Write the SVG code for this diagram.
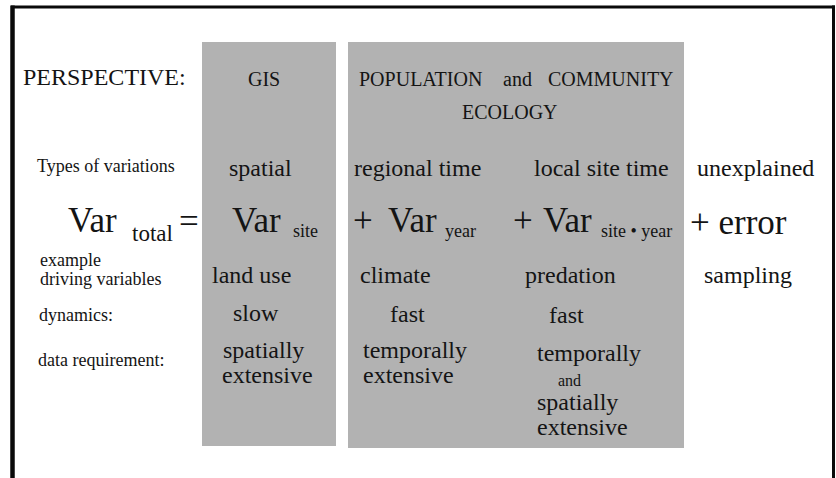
<svg xmlns="http://www.w3.org/2000/svg" width="836" height="478" viewBox="0 0 836 478">
<style>
text{fill:#141414}
.panel{fill:#b2b2b2}
.frame{stroke:#0a0a0a;fill:none}
.h{font-size:20px}
.lbl{font-size:18px}
.v{font-size:24px}
.big{font-size:35px}
.sub{font-size:18px}
</style>
<rect width="836" height="478" fill="#ffffff"/>
<g id="frame">
<line class="frame" x1="12.5" y1="5.5" x2="12.5" y2="478" stroke-width="4.5"/>
<line class="frame" x1="11" y1="7" x2="835" y2="7" stroke-width="3"/>
<line class="frame" x1="833.5" y1="5.5" x2="833.5" y2="478" stroke-width="3"/>
</g>
<g id="panel-gis"><rect class="panel" x="202" y="42" width="134" height="404"/></g>
<g id="panel-ecology"><rect class="panel" x="348" y="42" width="336" height="406"/></g>
<g id="labels" font-family="'Liberation Serif', 'Times New Roman', 'DejaVu Serif', serif">
<g id="row-perspective">
<text x="23" y="85" font-size="24">PERSPECTIVE:</text>
<text class="h" x="248" y="86">GIS</text>
<text class="h" x="359" y="86">POPULATION</text>
<text class="h" x="503" y="86">and</text>
<text class="h" x="548" y="86">COMMUNITY</text>
<text class="h" x="462" y="119">ECOLOGY</text>
</g>
<g id="row-types">
<text class="lbl" x="37" y="172">Types of variations</text>
<text class="v" x="229" y="176">spatial</text>
<text class="v" x="354" y="176">regional time</text>
<text class="v" x="534" y="176">local site time</text>
<text class="v" x="697" y="176">unexplained</text>
</g>
<g id="row-equation">
<text class="big" x="68" y="232">Var</text>
<text x="132" y="241" font-size="23">total</text>
<text class="big" x="179" y="233">=</text>
<text class="big" x="232" y="232">Var</text>
<text class="sub" x="293" y="237">site</text>
<text class="big" x="353" y="232">+</text>
<text class="big" x="388" y="232">Var</text>
<text class="sub" x="445" y="237">year</text>
<text class="big" x="513" y="232">+</text>
<text class="big" x="543" y="232">Var</text>
<text class="sub" x="601" y="237">site • year</text>
<text class="big" x="690" y="234">+ error</text>
</g>
<g id="row-drivers">
<text class="lbl" x="40" y="266">example</text>
<text class="lbl" x="40" y="285">driving variables</text>
<text class="v" x="212" y="283">land use</text>
<text class="v" x="360" y="283">climate</text>
<text class="v" x="525" y="283">predation</text>
<text class="v" x="704" y="283">sampling</text>
</g>
<g id="row-dynamics">
<text class="lbl" x="39" y="321">dynamics:</text>
<text class="v" x="233" y="321">slow</text>
<text class="v" x="390" y="322">fast</text>
<text class="v" x="549" y="323">fast</text>
</g>
<g id="row-data">
<text class="lbl" x="38" y="366">data requirement:</text>
<text class="v" x="223" y="358">spatially</text>
<text class="v" x="222" y="383">extensive</text>
<text class="v" x="363" y="358">temporally</text>
<text class="v" x="363" y="383">extensive</text>
<text class="v" x="537" y="361">temporally</text>
<text x="558" y="386" font-size="16">and</text>
<text class="v" x="537" y="410">spatially</text>
<text class="v" x="537" y="435">extensive</text>
</g>
</g>
</svg>
